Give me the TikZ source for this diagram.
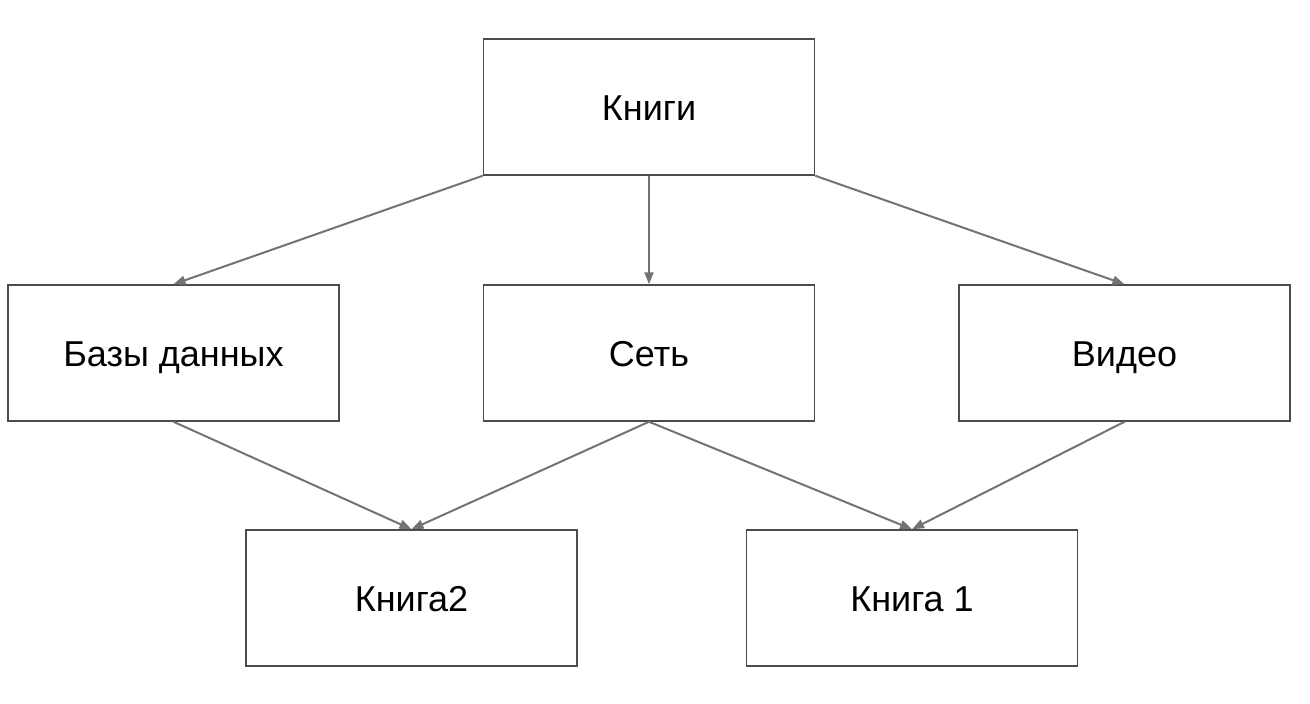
\documentclass[tikz,border=0pt]{standalone}
\usepackage{fontspec}
\setmainfont{Liberation Sans}
\usetikzlibrary{arrows.meta}
\begin{document}
\begin{tikzpicture}[x=1pt,y=-1pt,
  box/.style={draw=black!70,line width=1.5pt,minimum width=331pt,minimum height=136pt,inner sep=0pt,text height=26pt,text depth=0pt,font=\fontsize{36}{42}\selectfont},
  link/.style={draw=black!55,line width=2pt,-{Triangle[length=12pt,width=9pt]}}]
\useasboundingbox (0,0) rectangle (1310,704);

\node[box] (knigi) at (649,107) {Книги};
\node[box] (bazy) at (173.5,353) {Базы данных};
\node[box] (set) at (649,353) {Сеть};
\node[box] (video) at (1124.5,353) {Видео};
\node[box] (kniga2) at (411.5,598) {Книга2};
\node[box] (kniga1) at (912,598) {Книга 1};

%Книги->row 2
\draw[link] (knigi.south west) -- (bazy.north);
\draw[link] (knigi.south) -- (set.north);
\draw[link] (knigi.south east) -- (video.north);

%row 2->Книга2
\draw[link] (bazy.south) -- (kniga2.north);
\draw[link] (set.south) -- (kniga2.north);

%row 2->Книга 1
\draw[link] (set.south) -- (kniga1.north);
\draw[link] (video.south) -- (kniga1.north);

\end{tikzpicture}
\end{document}
